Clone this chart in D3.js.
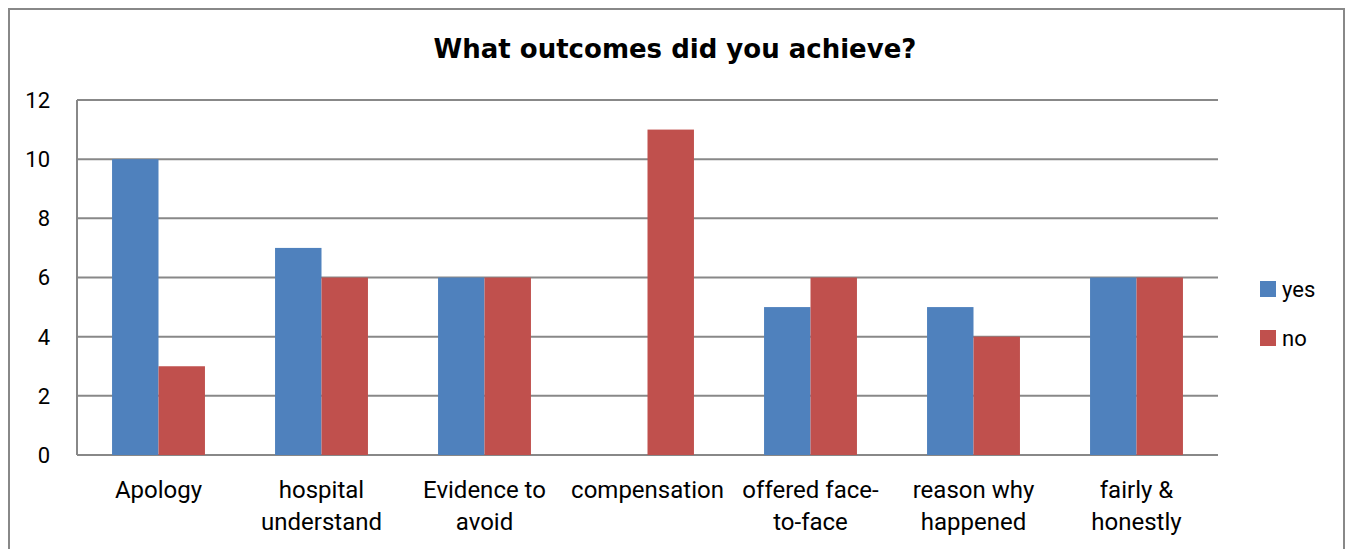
<!DOCTYPE html>
<html>
<head>
<meta charset="utf-8">
<script src="https://cdn.jsdelivr.net/npm/d3@7"></script>
<style>
  body { margin: 0; background: #fff; }
  text { font-family: Roboto, "Open Sans", sans-serif; fill: #000; }
</style>
</head>
<body>
<svg id="chart" width="1365" height="549"></svg>
<script>
// chart values
var categories = [
  ["Apology"],
  ["hospital", "understand"],
  ["Evidence to", "avoid"],
  ["compensation"],
  ["offered face-", "to-face"],
  ["reason why", "happened"],
  ["fairly &", "honestly"]
];
var seriesNames = ["yes", "no"];
var yesValues = [10, 7, 6, 0, 5, 5, 6];
var noValues = [3, 6, 6, 11, 6, 4, 6];
var yTicks = [0, 2, 4, 6, 8, 10, 12];
var colors = ["#4F81BD", "#C0504D"];

var svg = d3.select("#chart"),
    margin = {top: 100, right: 147, bottom: 94, left: 77},
    width  = 1365 - margin.left - margin.right,
    height = 549 - margin.top - margin.bottom;

// outer border
svg.append("rect")
  .attr("x", 9).attr("y", 9)
  .attr("width", 1335).attr("height", 560)
  .attr("fill", "none")
  .attr("stroke", "#888")
  .attr("stroke-width", 2);

svg.append("text")
  .attr("x", 675).attr("y", 58)
  .attr("text-anchor", "middle")
  .style("font-family", "'DejaVu Sans', sans-serif")
  .style("font-size", "26px")
  .style("font-weight", "bold")
  .text("What outcomes did you achieve?");

var x0 = d3.scaleBand()
  .domain(d3.range(categories.length))
  .range([0, width])
  .paddingInner(0.43).paddingOuter(0.215);

var x1 = d3.scaleBand()
  .domain(seriesNames)
  .range([0, x0.bandwidth()]);

var y = d3.scaleLinear().domain([0, 12]).range([height, 0]);

var g = svg.append("g")
  .attr("transform", "translate(" + margin.left + "," + margin.top + ")");

// gridlines
g.selectAll(".grid")
  .data(yTicks)
  .enter().append("line")
  .attr("x1", 0).attr("x2", width)
  .attr("y1", function(d) { return y(d); })
  .attr("y2", function(d) { return y(d); })
  .attr("stroke", "#888")
  .attr("stroke-width", 2);

// left axis line
g.append("line")
  .attr("x1", 0).attr("x2", 0)
  .attr("y1", 0).attr("y2", height)
  .attr("stroke", "#888")
  .attr("stroke-width", 2);

// y labels
g.selectAll(".ylab")
  .data(yTicks)
  .enter().append("text")
  .attr("x", -27)
  .attr("y", function(d) { return y(d); })
  .attr("dy", "0.36em")
  .attr("text-anchor", "end")
  .style("font-size", "22px")
  .text(function(d) { return d; });

var series = [yesValues, noValues];

series.forEach(function(vals, si) {
  g.selectAll(".bar" + si)
    .data(vals)
    .enter().append("rect")
    .attr("x", function(d, i) { return x0(i) + x1(seriesNames[si]); })
    .attr("y", function(d) { return y(d); })
    .attr("width", x1.bandwidth())
    .attr("height", function(d) { return height - y(d); })
    .attr("fill", colors[si]);
});

// x labels
categories.forEach(function(lines, i) {
  var t = g.append("text")
    .attr("text-anchor", "middle")
    .style("font-size", "24px");
  lines.forEach(function(line, li) {
    t.append("tspan")
      .attr("x", x0(i) + x0.bandwidth() / 2)
      .attr("y", height + 43 + li * 32)
      .text(line);
  });
});

// legend
var legend = svg.append("g")
  .attr("transform", "translate(1260,281)");

seriesNames.forEach(function(name, i) {
  legend.append("rect")
    .attr("x", 0).attr("y", i * 49)
    .attr("width", 16).attr("height", 16)
    .attr("fill", colors[i]);
  legend.append("text")
    .attr("x", 22).attr("y", i * 49 + 8)
    .attr("dy", "0.36em")
    .style("font-size", "22px")
    .text(name);
});
</script>
</body>
</html>
